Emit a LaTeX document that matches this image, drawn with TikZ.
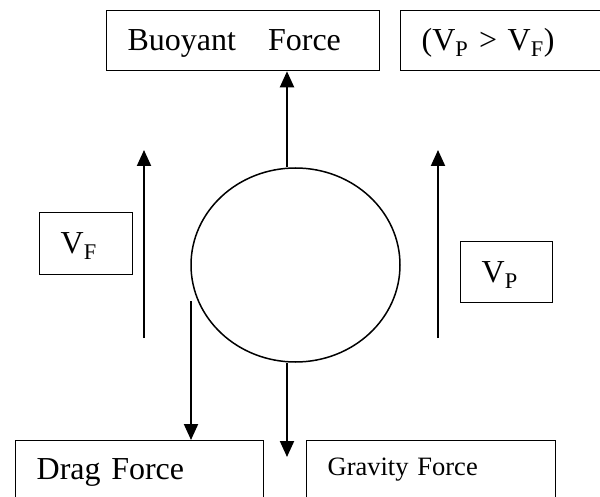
\documentclass[tikz,border=0pt]{standalone}
\usepackage{fontspec}
\setmainfont{Liberation Serif}
\usetikzlibrary{arrows.meta,shapes.geometric}

\tikzset{
  forcebox/.style={draw, line width=1.3pt, anchor=north west, inner xsep=21pt,
    inner ysep=0pt, align=left, font=\fontsize{32}{38}\selectfont},
  force/.style={-{Triangle[length=16pt,width=14pt]}, line width=2pt},
}

\begin{document}
\begin{tikzpicture}[x=1pt,y=-1pt]
    \useasboundingbox (0,0) rectangle (600,497);

    % Top boxes
    \node[forcebox, text width=231pt, text height=40pt, text depth=20pt] (buoy) at (106,10) {Buoyant~~~Force};
    \node[forcebox, text width=200pt, text height=40pt, text depth=20pt] (cond) at (400,10) {(V\textsubscript{P} > V\textsubscript{F})};

    % Velocity boxes
    \node[forcebox, text width=51pt, text height=41pt, text depth=21pt] (vf) at (39,212) {V\textsubscript{F}};
    \node[forcebox, text width=50pt, text height=41pt, text depth=20pt] (vp) at (460,241) {V\textsubscript{P}};

    % Bottom boxes
    \node[forcebox, text width=206pt, text height=39pt, text depth=40pt] (drag) at (15,440) {Drag Force};
    \node[forcebox, text width=207pt, text height=35pt, text depth=40pt,
          font=\fontsize{26.5}{32}\selectfont] (grav) at (306,440) {Gravity Force};

    % Particle
    \node[draw, ellipse, line width=1.5pt, minimum width=209pt, minimum height=194pt, inner sep=0pt] (ball) at (295.5,265) {};

    % Force arrows
    \coordinate (bstem) at ([xshift=-8.5pt]ball.north);
    \draw[force] (bstem) -- (bstem |- buoy.south);
    \coordinate (gstem) at ([xshift=-8.5pt]ball.south);
    \coordinate (gtip) at (287,457);
    \draw[force] (gstem) -- (gtip);
    \coordinate (dstart) at (191,301);
    \draw[force] (dstart) -- (dstart |- drag.north);

    % Velocity arrows
    \coordinate (vfbot) at (144,338);
    \coordinate (vftop) at (144,150);
    \draw[force] (vfbot) -- (vftop);
    \coordinate (vpbot) at (438,338);
    \coordinate (vptop) at (438,150);
    \draw[force] (vpbot) -- (vptop);

\end{tikzpicture}
\end{document}
